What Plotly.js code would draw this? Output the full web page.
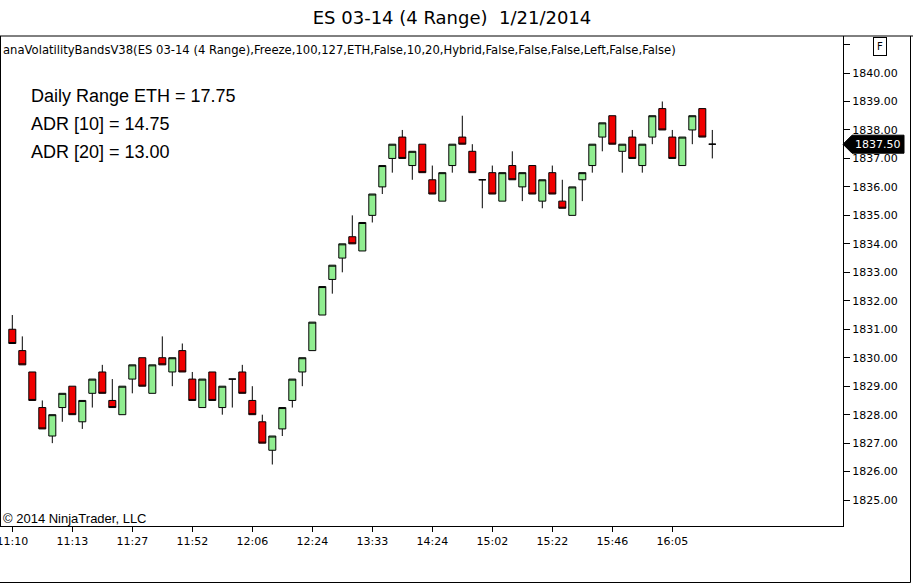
<!DOCTYPE html>
<html>
<head>
<meta charset="utf-8">
<script src="https://cdn.plot.ly/plotly-3.0.1.min.js"></script>
<style>html,body{margin:0;padding:0;background:#fff;}#chart{width:913px;height:584px;}</style>
</head>
<body>
<div id="chart"></div>
<script>
// ES 03-14 (4 Range) bars, 1/21/2014
var opens = [1831,1830.25,1829.5,1828.25,1827.25,1828.25,1829,1827.75,1828.75,1829.5,
  1828.5,1828,1829.25,1830,1828.75,1830,1829.5,1830.25,1829.25,1828.25,
  1829.5,1828.25,1829.25,1829.5,1828.5,1827.75,1826.75,1827.5,1828.5,1829.5,
  1830.25,1831.5,1832.75,1833.5,1834.25,1833.75,1835,1836,1837,1837.75,
  1836.75,1837.5,1836.25,1835.5,1836.75,1837.75,1837.25,1836.25,1836.5,1835.5,
  1836.75,1836,1836.75,1835.5,1836.5,1835.5,1835,1836.25,1836.75,1837.75,
  1838.5,1837.25,1837.75,1836.75,1837.75,1838.75,1837.75,1836.75,1838,1838.75,
  1837.5];
var highs = [1831.5,1830.75,1829.5,1828.5,1828,1828.75,1829,1828.5,1829.25,1829.75,
  1829.25,1829,1829.75,1830,1829.75,1830.75,1830,1830.5,1829.5,1829.25,
  1829.5,1829,1829.25,1829.75,1829,1828,1827.25,1828.25,1829.25,1830,
  1831.25,1832.5,1833.25,1834,1835,1834.75,1835.75,1836.75,1837.5,1838,
  1837.25,1837.5,1836.75,1836.5,1837.5,1838.5,1837.5,1836.25,1836.75,1836.5,
  1837.25,1836.5,1836.75,1836.25,1836.75,1836.25,1836,1836.5,1837.5,1838.25,
  1838.5,1837.5,1838,1837.5,1838.5,1839,1838,1837.75,1838.5,1838.75,
  1838];
var lows = [1830.5,1829.75,1828.5,1827.5,1827,1827.75,1828,1827.5,1828.25,1828.75,
  1828.25,1828,1828.75,1829,1828.75,1829.75,1829,1829.5,1828.5,1828.25,
  1828.5,1828,1828.25,1828.75,1828,1827,1826.25,1827.25,1828.25,1829,
  1830.25,1831.5,1832.25,1833,1834,1833.75,1834.75,1835.75,1836.5,1837,
  1836.25,1836.5,1835.75,1835.5,1836.5,1837.5,1836.5,1835.25,1835.75,1835.5,
  1836.25,1835.5,1835.75,1835.25,1835.75,1835.25,1835,1835.5,1836.5,1837.25,
  1837.5,1836.5,1837,1836.5,1837.5,1838,1837,1836.75,1837.5,1837.75,
  1837];
var closes = [1830.5,1829.75,1828.5,1827.5,1828,1828.75,1828,1828.5,1829.25,1828.75,
  1828.25,1829,1829.75,1829,1829.75,1829.75,1830,1829.5,1828.5,1829.25,
  1828.5,1829,1829.25,1828.75,1828,1827,1827.25,1828.25,1829.25,1830,
  1831.25,1832.5,1833.25,1834,1834,1834.75,1835.75,1836.75,1837.5,1837,
  1837.25,1836.5,1835.75,1836.5,1837.5,1837.5,1836.5,1836.25,1835.75,1836.5,
  1836.25,1836.5,1835.75,1836.25,1835.75,1835.25,1836,1836.5,1837.5,1838.25,
  1837.5,1837.5,1837,1837.5,1838.5,1838,1837,1837.75,1838.5,1837.75,
  1837.5];
var tickIdx = [0,6,12,18,24,30,36,42,48,54,60,66];
var tickLabels = ['11:10','11:13','11:27','11:52','12:06','12:24','13:33','14:24','15:02','15:22','15:46','16:05'];
var priceTicks = [1825,1826,1827,1828,1829,1830,1831,1832,1833,1834,1835,1836,1837,1838,1839,1840,1841];
var statLabels = ['Daily Range ETH','ADR [10]','ADR [20]'];
var statValues = [17.75, 14.75, 13.00];
var chartTitle = 'ES 03-14 (4 Range)\u00a0 1/21/2014';
var indicatorLabel = 'anaVolatilityBandsV38(ES 03-14 (4 Range),Freeze,100,127,ETH,False,10,20,Hybrid,False,False,False,Left,False,False)';
var copyright = '\u00a9 2014 NinjaTrader, LLC';

var xs = opens.map(function(_, i){ return i; });
var lastClose = closes[closes.length - 1];
var tahoma = 'DejaVu Sans';
var arial = 'Liberation Sans, Arial, sans-serif';

var trace = {
  type: 'candlestick',
  x: xs, open: opens, high: highs, low: lows, close: closes,
  increasing: {line: {color: '#000', width: 1}, fillcolor: '#90ee90'},
  decreasing: {line: {color: '#000', width: 1}, fillcolor: '#f00000'},
  whiskerwidth: 0,
  hoverinfo: 'none',
  showlegend: false
};

var W = 843, H = 490, T = 36;
function py(pix){ return (T + H - pix) / H; }

var annotations = [
  {xref:'paper', yref:'paper', x:0, xshift:1, y:py(50), xanchor:'left', yanchor:'middle',
   text: indicatorLabel, showarrow:false, font:{family:tahoma, size:11.6, color:'#000'}},
  {xref:'paper', yref:'paper', x:0, xshift:1, y:py(518), xanchor:'left', yanchor:'middle',
   text: copyright, showarrow:false, font:{family:arial, size:13, color:'#000'}},
  {xref:'paper', yref:'paper', x:880.5/W, y:py(46.5), xanchor:'center', yanchor:'middle',
   text:'F', showarrow:false, bordercolor:'#000', borderwidth:1, borderpad:3, bgcolor:'#fff',
   font:{family:tahoma, size:10, color:'#000'}},
  {xref:'paper', yref:'y', x:1, xshift:10, y:lastClose, xanchor:'left', yanchor:'middle',
   text: lastClose.toFixed(2), showarrow:false, font:{family:tahoma, size:11, color:'#fff'}}
];
var statY = [96, 124, 152];
statLabels.forEach(function(lbl, i){
  annotations.push({xref:'paper', yref:'paper', x:29/W, y:py(statY[i]), xanchor:'left', yanchor:'middle',
    text: lbl + ' = ' + statValues[i].toFixed(2), showarrow:false,
    font:{family:arial, size:18, color:'#000'}});
});

var shapes = [
  {type:'line', xref:'paper', yref:'paper', x0:0, x1:913/W, y0:1, y1:1, line:{color:'#000', width:1}},
  {type:'line', xref:'paper', yref:'paper', x0:0.5/W, x1:0.5/W, y0:0, y1:1, line:{color:'#000', width:1}},
  {type:'line', xref:'paper', yref:'paper', x0:910.5/W, x1:910.5/W, y0:1, y1:py(582.5), line:{color:'#000', width:1}},
  {type:'line', xref:'paper', yref:'paper', x0:0, x1:910.5/W, y0:py(582.5), y1:py(582.5), line:{color:'#000', width:1}},
  {type:'path', xref:'paper', xsizemode:'pixel', xanchor:1, yref:'y', ysizemode:'pixel', yanchor:lastClose,
   path:'M0,0 L9,9 L61,9 L61,-9 L9,-9 Z', fillcolor:'#000', line:{color:'#000', width:1}}
];

var layout = {
  width: 913, height: 584,
  margin: {l:0, r:70, t:36, b:58, pad:0},
  paper_bgcolor:'#fff', plot_bgcolor:'#fff',
  title: {text: chartTitle, xref:'container', x: 452/913, yref:'container', y: 1 - 18/584,
          xanchor:'center', yanchor:'middle', font:{family:tahoma, size:18, color:'#000'}},
  showlegend:false,
  boxgap: 0, boxgroupgap: 0.3,
  xaxis: {range:[-1.23, 83.07], tickvals: tickIdx, ticktext: tickLabels, ticks:'outside', ticklen:5,
    tickcolor:'#000', showline:true, linecolor:'#000', linewidth:1, showgrid:false, zeroline:false,
    rangeslider:{visible:false}, automargin:false, fixedrange:true, ticklabeloverflow:'allow',
    tickfont:{family:tahoma, size:11, color:'#000'}},
  yaxis: {side:'right', range:[1824.09, 1841.30], tickvals: priceTicks,
    ticktext: priceTicks.map(function(v){ return v === 1841 ? '' : v.toFixed(2); }),
    ticks:'outside', ticklen:6, tickcolor:'#000', showline:true, linecolor:'#000', linewidth:1,
    showgrid:false, zeroline:false, automargin:false, fixedrange:true,
    tickfont:{family:tahoma, size:11, color:'#000'}},
  annotations: annotations,
  shapes: shapes
};

Plotly.newPlot('chart', [trace], layout, {staticPlot:true, displayModeBar:false});
</script>
</body>
</html>
